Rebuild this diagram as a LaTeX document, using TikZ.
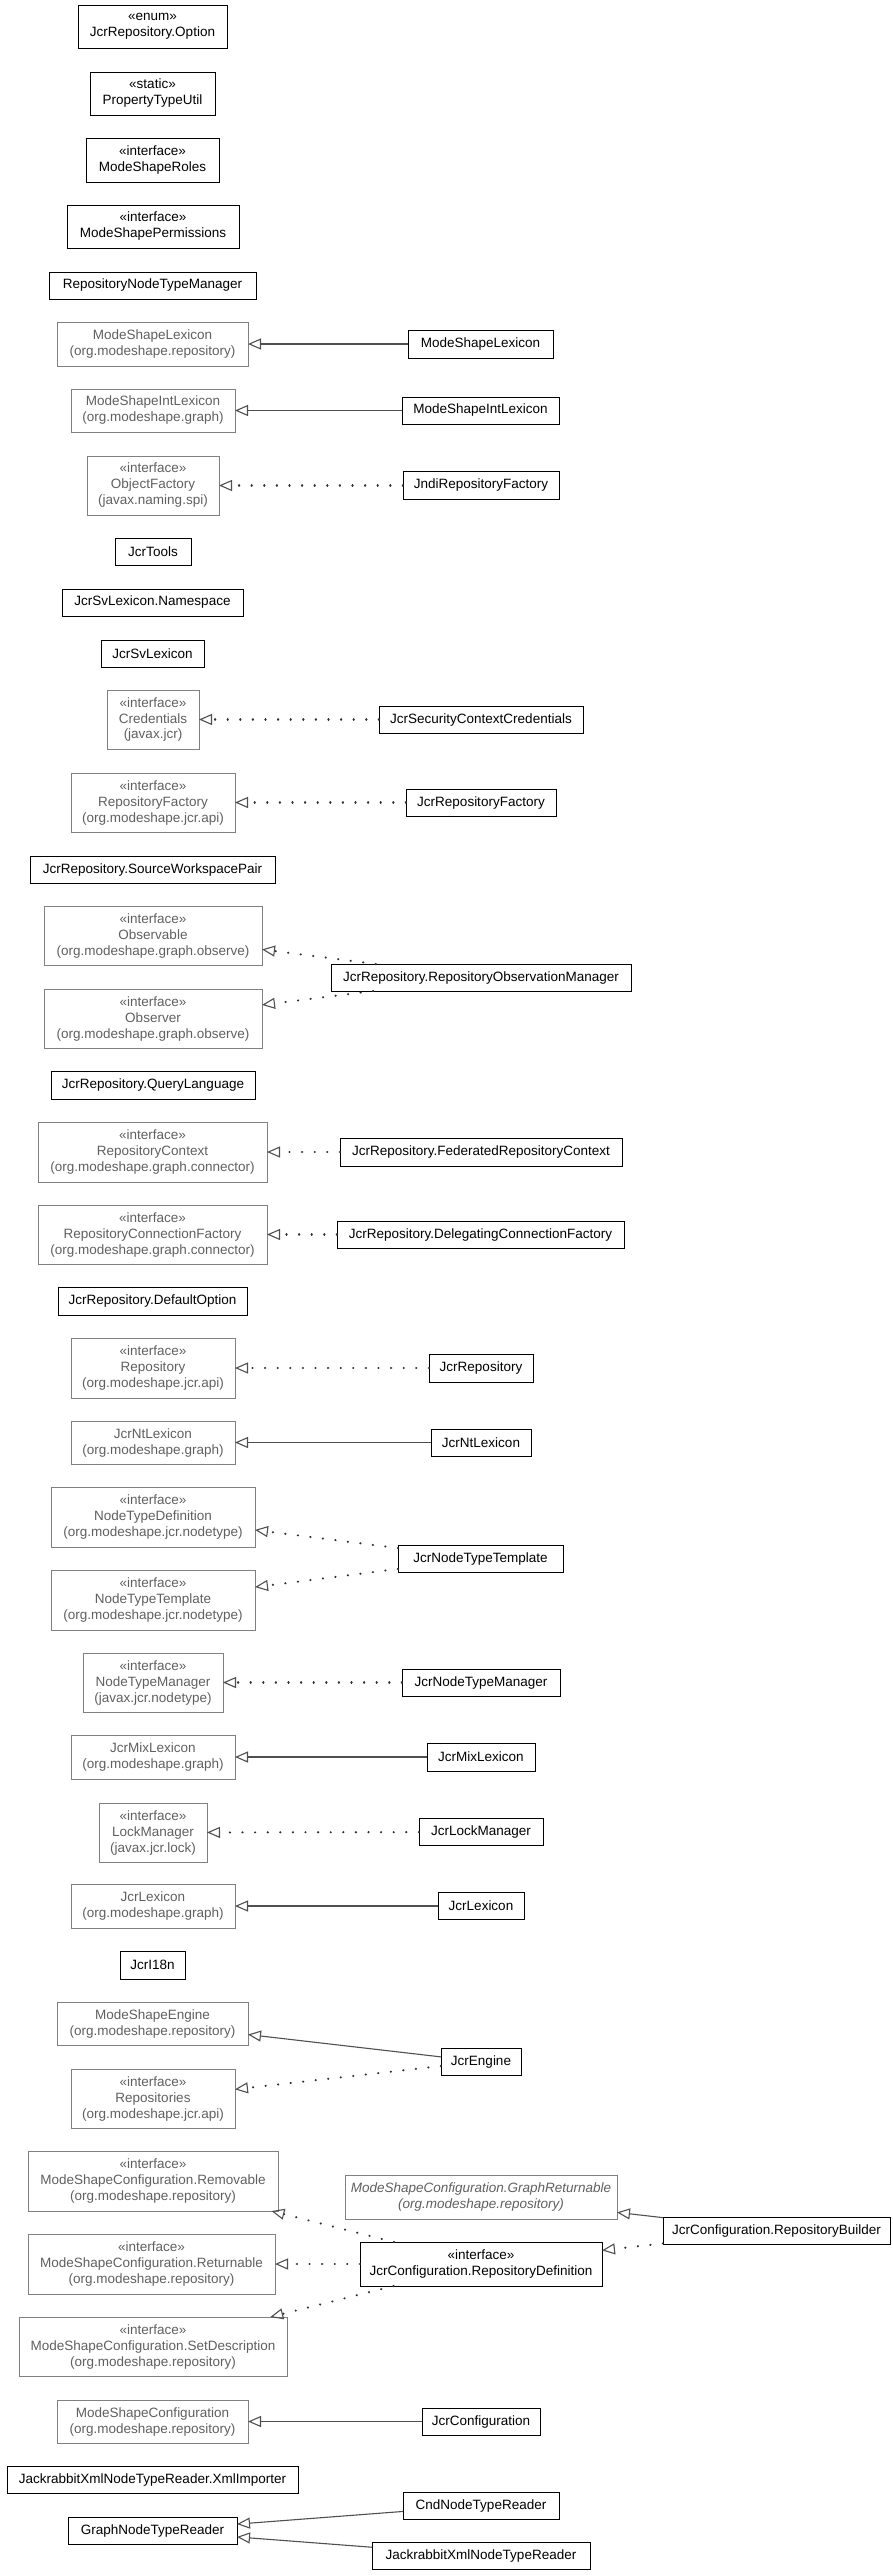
\documentclass[tikz,border=0pt]{standalone}
\usepackage{fontspec}
\setmainfont{Liberation Sans}
\usetikzlibrary{arrows.meta}
\definecolor{extdraw}{HTML}{808080}
\definecolor{exttext}{HTML}{606060}
\definecolor{edgec}{HTML}{505050}
\definecolor{dotc}{HTML}{303030}
\begin{document}
\begin{tikzpicture}[x=1pt,y=-1pt,
 cls/.style={draw=black, line width=1pt, text=black, inner sep=0pt, outer sep=0pt, align=center, font=\fontsize{13.5}{16}\selectfont, fill=white},
 ext/.style={cls, draw=extdraw, text=exttext},
 gen/.style={draw=edgec, line width=1.1pt, -{Triangle[open, length=13pt, width=11pt]}},
 real/.style={draw=dotc, line width=2.2pt, line cap=round, dash pattern=on 0.2pt off 12.4pt, -{Triangle[open, length=13pt, width=11pt, line width=1.1pt, color=edgec]}},
]
\fill[white] (0,0) rectangle (893,2575);
\useasboundingbox (0,0) rectangle (893,2575);

\node[cls, minimum width=149pt, minimum height=43pt] (opt) at (152.5,26.5) {«enum»\\JcrRepository.Option};
\node[cls, minimum width=125pt, minimum height=43pt] (ptu) at (152.5,93.5) {«static»\\PropertyTypeUtil};
\node[cls, minimum width=133pt, minimum height=44pt] (roles) at (152.5,160) {«interface»\\ModeShapeRoles};
\node[cls, minimum width=172pt, minimum height=43pt] (perms) at (153,226.5) {«interface»\\ModeShapePermissions};
\node[cls, minimum width=207pt, minimum height=27pt] (rntm) at (152.5,285.5) {RepositoryNodeTypeManager};

\node[ext, minimum width=191pt, minimum height=44pt] (mslg) at (152.5,344) {ModeShapeLexicon\\(org.modeshape.repository)};
\node[cls, minimum width=145pt, minimum height=28pt] (msl) at (480.5,344) {ModeShapeLexicon};
\node[ext, minimum width=164pt, minimum height=43pt] (msilg) at (153,410.5) {ModeShapeIntLexicon\\(org.modeshape.graph)};
\node[cls, minimum width=157pt, minimum height=27pt] (msil) at (480.5,410.5) {ModeShapeIntLexicon};
\node[ext, minimum width=132pt, minimum height=59pt] (of) at (153,485.5) {«interface»\\ObjectFactory\\(javax.naming.spi)};
\node[cls, minimum width=156pt, minimum height=28pt] (jndi) at (481,485.5) {JndiRepositoryFactory};
\node[cls, minimum width=76pt, minimum height=27pt] (tools) at (153,551.5) {JcrTools};
\node[cls, minimum width=181pt, minimum height=27pt] (svns) at (152.5,602.5) {JcrSvLexicon.Namespace};
\node[cls, minimum width=103pt, minimum height=27pt] (svl) at (152.5,653.5) {JcrSvLexicon};
\node[ext, minimum width=92pt, minimum height=59pt] (cred) at (153,719.5) {«interface»\\Credentials\\(javax.jcr)};
\node[cls, minimum width=204pt, minimum height=27pt] (jscc) at (481,719.5) {JcrSecurityContextCredentials};
\node[ext, minimum width=164pt, minimum height=59pt] (rf) at (153,802.5) {«interface»\\RepositoryFactory\\(org.modeshape.jcr.api)};
\node[cls, minimum width=150pt, minimum height=27pt] (jrf) at (481,802.5) {JcrRepositoryFactory};
\node[cls, minimum width=245pt, minimum height=27pt] (swp) at (152.5,869.5) {JcrRepository.SourceWorkspacePair};
\node[ext, minimum width=218pt, minimum height=59pt] (obsable) at (153,935.5) {«interface»\\Observable\\(org.modeshape.graph.observe)};
\node[cls, minimum width=300pt, minimum height=27pt] (rom) at (481,977.5) {JcrRepository.RepositoryObservationManager};
\node[ext, minimum width=218pt, minimum height=59pt] (obser) at (153,1018.5) {«interface»\\Observer\\(org.modeshape.graph.observe)};
\node[cls, minimum width=204pt, minimum height=28pt] (ql) at (153,1085) {JcrRepository.QueryLanguage};
\node[ext, minimum width=229pt, minimum height=60pt] (rc) at (152.5,1152) {«interface»\\RepositoryContext\\(org.modeshape.graph.connector)};
\node[cls, minimum width=282pt, minimum height=28pt] (frc) at (481,1152) {JcrRepository.FederatedRepositoryContext};
\node[ext, minimum width=229pt, minimum height=59pt] (rcf) at (152.5,1234.5) {«interface»\\RepositoryConnectionFactory\\(org.modeshape.graph.connector)};
\node[cls, minimum width=287pt, minimum height=27pt] (dcf) at (480.5,1234.5) {JcrRepository.DelegatingConnectionFactory};
\node[cls, minimum width=189pt, minimum height=28pt] (dopt) at (152.5,1301) {JcrRepository.DefaultOption};
\node[ext, minimum width=164pt, minimum height=60pt] (repo) at (153,1368) {«interface»\\Repository\\(org.modeshape.jcr.api)};
\node[cls, minimum width=104pt, minimum height=28pt] (jr) at (481,1368) {JcrRepository};
\node[ext, minimum width=164pt, minimum height=43pt] (ntlg) at (153,1442.5) {JcrNtLexicon\\(org.modeshape.graph)};
\node[cls, minimum width=100pt, minimum height=27pt] (ntl) at (481,1442.5) {JcrNtLexicon};
\node[ext, minimum width=204pt, minimum height=60pt] (ntd) at (153,1517) {«interface»\\NodeTypeDefinition\\(org.modeshape.jcr.nodetype)};
\node[cls, minimum width=165pt, minimum height=27pt] (jntt) at (480.5,1558.5) {JcrNodeTypeTemplate};
\node[ext, minimum width=204pt, minimum height=60pt] (ntt) at (153,1600) {«interface»\\NodeTypeTemplate\\(org.modeshape.jcr.nodetype)};
\node[ext, minimum width=140pt, minimum height=59pt] (ntm) at (153,1682.5) {«interface»\\NodeTypeManager\\(javax.jcr.nodetype)};
\node[cls, minimum width=158pt, minimum height=27pt] (jntm) at (481,1682.5) {JcrNodeTypeManager};
\node[ext, minimum width=164pt, minimum height=44pt] (mixg) at (153,1757) {JcrMixLexicon\\(org.modeshape.graph)};
\node[cls, minimum width=108pt, minimum height=28pt] (mix) at (481,1757) {JcrMixLexicon};
\node[ext, minimum width=108pt, minimum height=59pt] (lm) at (153,1832.5) {«interface»\\LockManager\\(javax.jcr.lock)};
\node[cls, minimum width=124pt, minimum height=27pt] (jlm) at (481,1832) {JcrLockManager};
\node[ext, minimum width=164pt, minimum height=44pt] (lexg) at (153,1906) {JcrLexicon\\(org.modeshape.graph)};
\node[cls, minimum width=86pt, minimum height=27pt] (lex) at (481,1906) {JcrLexicon};
\node[cls, minimum width=65pt, minimum height=28pt] (i18n) at (152.5,1965) {JcrI18n};
\node[ext, minimum width=191pt, minimum height=43pt] (mse) at (152.5,2023.5) {ModeShapeEngine\\(org.modeshape.repository)};
\node[cls, minimum width=80pt, minimum height=27pt] (eng) at (481,2061.5) {JcrEngine};
\node[ext, minimum width=164pt, minimum height=59pt] (repos) at (153,2098.5) {«interface»\\Repositories\\(org.modeshape.jcr.api)};
\node[ext, minimum width=250pt, minimum height=60pt] (rem) at (153,2181) {«interface»\\ModeShapeConfiguration.Removable\\(org.modeshape.repository)};
\node[ext, minimum width=272pt, minimum height=44pt, font=\fontsize{13.5}{16}\selectfont\itshape] (gr) at (481,2197) {ModeShapeConfiguration.GraphReturnable\\(org.modeshape.repository)};
\node[cls, minimum width=227pt, minimum height=27pt] (rb) at (776.5,2230.5) {JcrConfiguration.RepositoryBuilder};
\node[cls, minimum width=242pt, minimum height=44pt] (rd) at (481,2264) {«interface»\\JcrConfiguration.RepositoryDefinition};
\node[ext, minimum width=247pt, minimum height=60pt] (ret) at (151.5,2264) {«interface»\\ModeShapeConfiguration.Returnable\\(org.modeshape.repository)};
\node[ext, minimum width=268pt, minimum height=59pt] (sd) at (153,2346.5) {«interface»\\ModeShapeConfiguration.SetDescription\\(org.modeshape.repository)};
\node[ext, minimum width=191pt, minimum height=43pt] (mscg) at (152.5,2421.5) {ModeShapeConfiguration\\(org.modeshape.repository)};
\node[cls, minimum width=118pt, minimum height=27pt] (jc) at (481,2421.5) {JcrConfiguration};
\node[cls, minimum width=291pt, minimum height=27pt] (xi) at (152.5,2479.5) {JackrabbitXmlNodeTypeReader.XmlImporter};
\node[cls, minimum width=156pt, minimum height=27pt] (cnd) at (481,2505.5) {CndNodeTypeReader};
\node[cls, minimum width=169pt, minimum height=27pt] (gntr) at (152.5,2530.5) {GraphNodeTypeReader};
\node[cls, minimum width=218pt, minimum height=27pt] (jxr) at (481,2555.5) {JackrabbitXmlNodeTypeReader};

\draw[gen] (msl) -- (mslg);
\draw[gen] (msil) -- (msilg);
\draw[real] (jndi) -- (of);
\draw[real] (jscc) -- (cred);
\draw[real] (jrf) -- (rf);
\draw[real] (rom) -- (obsable);
\draw[real] (rom) -- (obser);
\draw[real] (frc) -- (rc);
\draw[real] (dcf) -- (rcf);
\draw[real] (jr) -- (repo);
\draw[gen] (ntl) -- (ntlg);
\draw[real] (jntt) -- (ntd);
\draw[real] (jntt) -- (ntt);
\draw[real] (jntm) -- (ntm);
\draw[gen] (mix) -- (mixg);
\draw[real] (jlm) -- (lm);
\draw[gen] (lex) -- (lexg);
\draw[gen] (eng) -- (mse);
\draw[real] (eng) -- (repos);
\draw[real] (rd) -- (rem);
\draw[real] (rd) -- (ret);
\draw[real] (rd) -- (sd);
\draw[gen] (rb) -- (gr);
\draw[real] (rb) -- (rd);
\draw[gen] (jc) -- (mscg);
\draw[gen] (cnd) -- (gntr);
\draw[gen] (jxr) -- (gntr);
\end{tikzpicture}
\end{document}
